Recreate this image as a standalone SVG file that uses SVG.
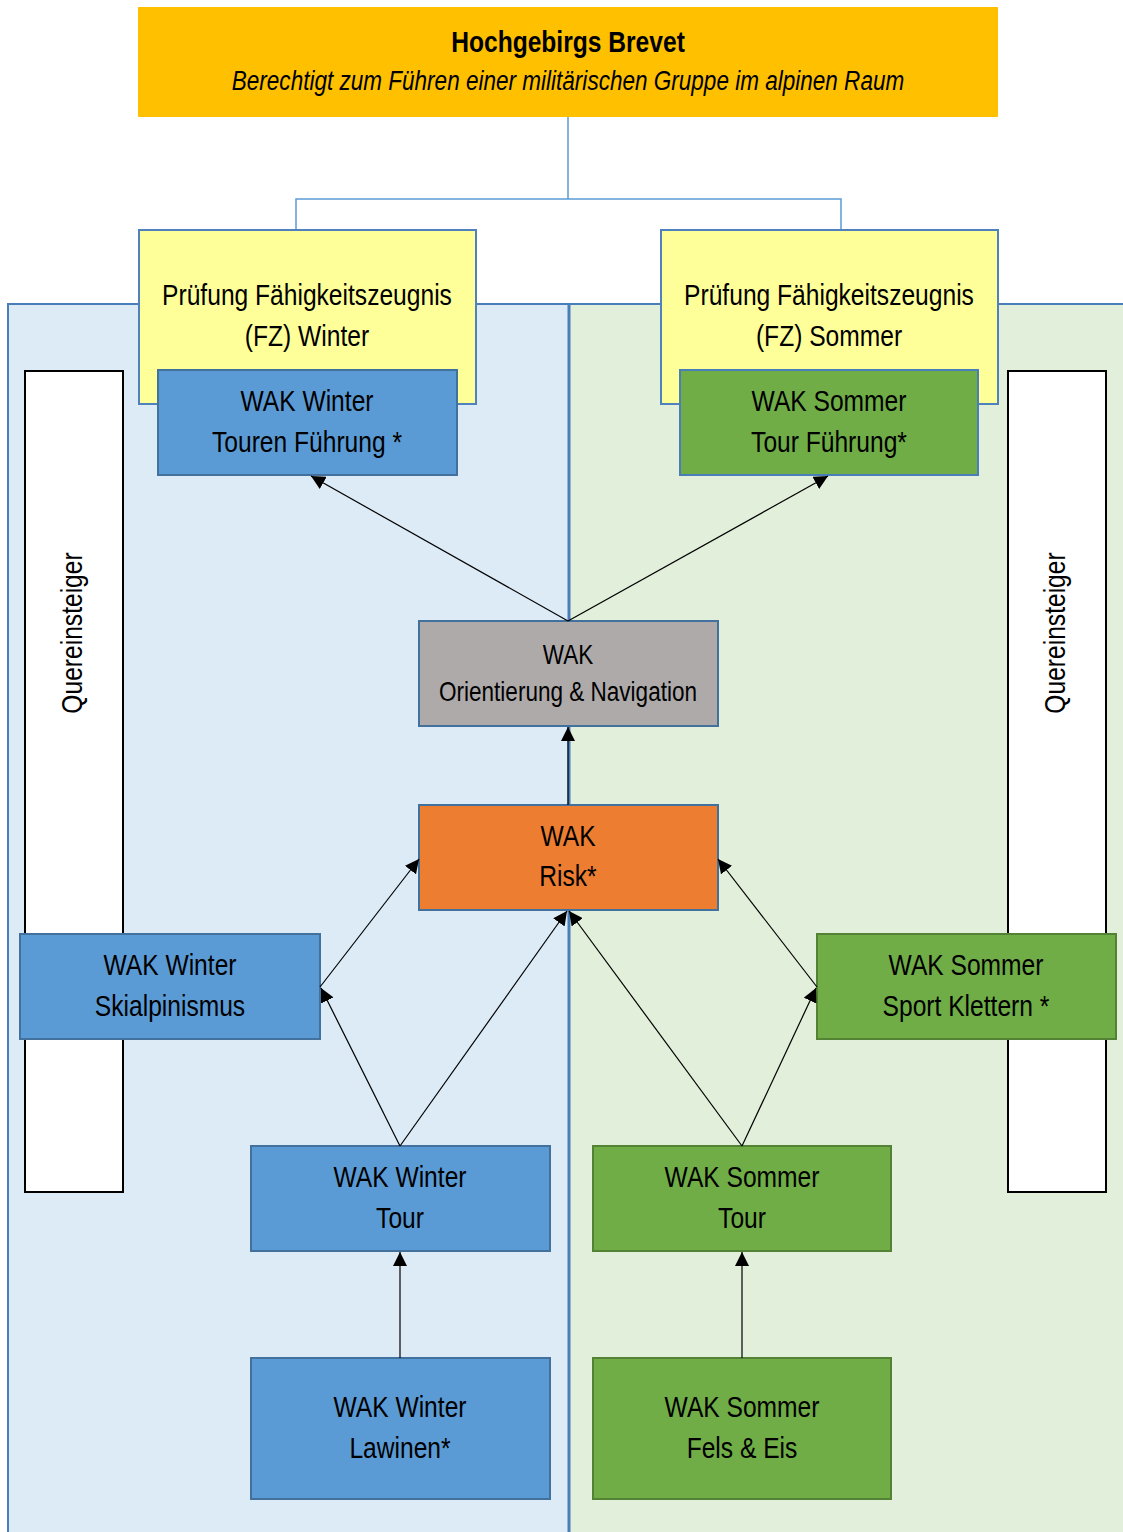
<svg xmlns="http://www.w3.org/2000/svg" width="1123" height="1532" viewBox="0 0 1123 1532">
<defs>
<marker id="ah" viewBox="0 0 10 10" refX="10" refY="5" markerWidth="14" markerHeight="14" markerUnits="userSpaceOnUse" orient="auto">
<path d="M0,0 L10,5 L0,10 z" fill="#000"/>
</marker>
<style>
text{font-family:"Liberation Sans",Arial,sans-serif;font-size:30px;fill:#000;text-anchor:middle}
.blue{fill:#5B9BD5;stroke:#41719C;stroke-width:2}
.green{fill:#70AD47;stroke:#548235;stroke-width:2}
.yellow{fill:#FFFF99;stroke:#4F81BD;stroke-width:2}
.q{fill:#fff;stroke:#000;stroke-width:2}
.conn line{stroke:#000;stroke-width:1.2;marker-end:url(#ah)}
.tree{fill:none;stroke:#5B9BD5;stroke-width:1.5}
</style>
</defs>
<rect width="1123" height="1532" fill="#fff"/>
<g id="panels">
<rect x="8" y="304" width="561" height="1240" fill="#DDEBF7" stroke="#4A7EBB" stroke-width="2"/>
<rect x="569" y="304" width="570" height="1240" fill="#E2EFDA" stroke="#4A7EBB" stroke-width="2"/>
<line x1="569" y1="304" x2="569" y2="1532" stroke="#4A7EBB" stroke-width="3"/>
</g>
<g id="tree">
<path class="tree" d="M568,117 V199 M296,230 V199 H841 V230"/>
</g>
<g id="brevet">
<rect x="138" y="7" width="860" height="110" fill="#FFC000"/>
<text transform="translate(568,52) scale(0.82,1)" style="font-weight:bold">Hochgebirgs Brevet</text>
<text transform="translate(568,90) scale(0.82,1)" style="font-style:italic;font-size:27.5px">Berechtigt zum Führen einer militärischen Gruppe im alpinen Raum</text>
</g>
<g id="fz-winter">
<rect class="yellow" x="139" y="230" width="337" height="174"/>
<text transform="translate(307,305) scale(0.82,1)">Prüfung Fähigkeitszeugnis</text>
<text transform="translate(307,346) scale(0.82,1)">(FZ) Winter</text>
</g>
<g id="fz-sommer">
<rect class="yellow" x="661" y="230" width="337" height="174"/>
<text transform="translate(829,305) scale(0.82,1)">Prüfung Fähigkeitszeugnis</text>
<text transform="translate(829,346) scale(0.82,1)">(FZ) Sommer</text>
</g>
<g id="quer-left">
<rect class="q" x="25" y="371" width="98" height="821"/>
<text transform="translate(82,633) rotate(-90) scale(0.82,1)">Quereinsteiger</text>
</g>
<g id="quer-right">
<rect class="q" x="1008" y="371" width="98" height="821"/>
<text transform="translate(1065,633) rotate(-90) scale(0.82,1)">Quereinsteiger</text>
</g>
<g id="winter-fuehrung">
<rect class="blue" x="158" y="370" width="299" height="105"/>
<text transform="translate(307,411) scale(0.82,1)">WAK Winter</text>
<text transform="translate(307,452) scale(0.82,1)">Touren Führung *</text>
</g>
<g id="sommer-fuehrung">
<rect fill="#70AD47" stroke="#4A7EBB" stroke-width="2" x="680" y="370" width="298" height="105"/>
<text transform="translate(829,411) scale(0.82,1)">WAK Sommer</text>
<text transform="translate(829,452) scale(0.82,1)">Tour Führung*</text>
</g>
<g id="orientierung">
<rect fill="#AEAAAA" stroke="#41719C" stroke-width="2" x="419" y="621" width="299" height="105"/>
<text transform="translate(568,664) scale(0.82,1)" style="font-size:27.5px">WAK</text>
<text transform="translate(568,701) scale(0.82,1)" style="font-size:27.5px">Orientierung &amp; Navigation</text>
</g>
<g id="risk">
<rect fill="#ED7D31" stroke="#41719C" stroke-width="2" x="419" y="805" width="299" height="105"/>
<text transform="translate(568,846) scale(0.82,1)">WAK</text>
<text transform="translate(568,886) scale(0.82,1)">Risk*</text>
</g>
<g id="skialpinismus">
<rect class="blue" x="20" y="934" width="300" height="105"/>
<text transform="translate(170,975) scale(0.82,1)">WAK Winter</text>
<text transform="translate(170,1016) scale(0.82,1)">Skialpinismus</text>
</g>
<g id="sportklettern">
<rect class="green" x="817" y="934" width="299" height="105"/>
<text transform="translate(966,975) scale(0.82,1)">WAK Sommer</text>
<text transform="translate(966,1016) scale(0.82,1)">Sport Klettern *</text>
</g>
<g id="winter-tour">
<rect class="blue" x="251" y="1146" width="299" height="105"/>
<text transform="translate(400,1187) scale(0.82,1)">WAK Winter</text>
<text transform="translate(400,1228) scale(0.82,1)">Tour</text>
</g>
<g id="sommer-tour">
<rect class="green" x="593" y="1146" width="298" height="105"/>
<text transform="translate(742,1187) scale(0.82,1)">WAK Sommer</text>
<text transform="translate(742,1228) scale(0.82,1)">Tour</text>
</g>
<g id="lawinen">
<rect class="blue" x="251" y="1358" width="299" height="141"/>
<text transform="translate(400,1417) scale(0.82,1)">WAK Winter</text>
<text transform="translate(400,1458) scale(0.82,1)">Lawinen*</text>
</g>
<g id="felseis">
<rect class="green" x="593" y="1358" width="298" height="141"/>
<text transform="translate(742,1417) scale(0.82,1)">WAK Sommer</text>
<text transform="translate(742,1458) scale(0.82,1)">Fels &amp; Eis</text>
</g>
<g id="connectors" class="conn">
<line x1="568" y1="621" x2="311" y2="476"/>
<line x1="568" y1="621" x2="828" y2="476"/>
<line x1="568" y1="805" x2="568" y2="727"/>
<line x1="320" y1="987" x2="419" y2="859"/>
<line x1="400" y1="1146" x2="321" y2="988"/>
<line x1="400" y1="1146" x2="567" y2="911"/>
<line x1="742" y1="1146" x2="569" y2="911"/>
<line x1="742" y1="1146" x2="816" y2="988"/>
<line x1="817" y1="987" x2="718" y2="859"/>
<line x1="400" y1="1358" x2="400" y2="1252"/>
<line x1="742" y1="1358" x2="742" y2="1252"/>
</g>
</svg>
